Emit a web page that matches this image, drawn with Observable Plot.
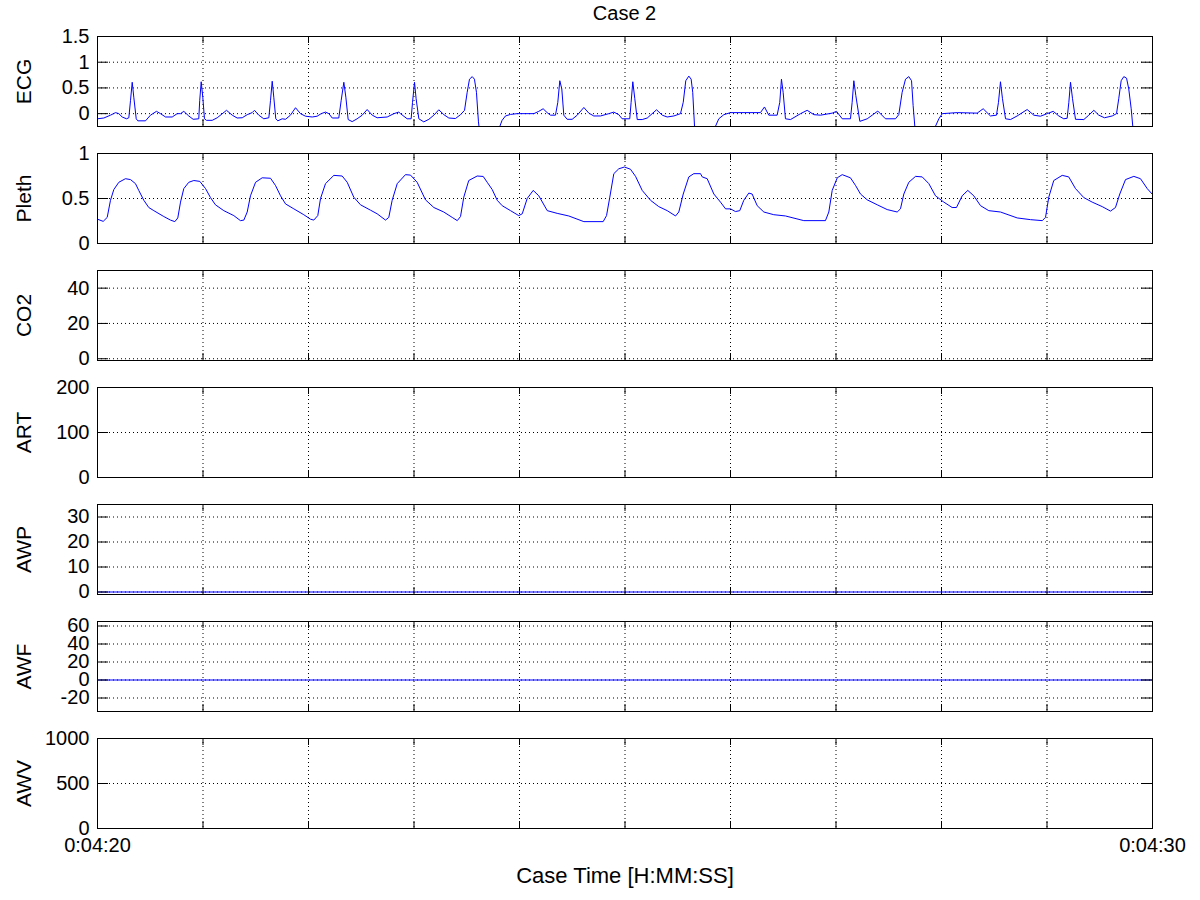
<!DOCTYPE html>
<html><head><meta charset="utf-8">
<script src="https://cdn.jsdelivr.net/npm/d3@7"></script>
<script src="https://cdn.jsdelivr.net/npm/@observablehq/plot@0.6"></script>
<style>
body{margin:0;background:#fff;}
#chart{position:relative;width:1200px;height:900px;font-family:"Liberation Sans",Arial,sans-serif;background:#fff;overflow:hidden;}
#title{position:absolute;left:97px;width:1055px;top:3px;text-align:center;font-size:20px;line-height:20px;color:#000;}
</style></head><body>
<div id="chart"><div id="title">Case 2</div></div>
<script>
// ---- data ----
const titleText = "Case 2";
const xLabel = "Case Time [H:MM:SS]";
const startSec = 260; // 0:04:20
const endSec = 270;   // 0:04:30
const panelNames = ["ECG", "Pleth", "CO2", "ART", "AWP", "AWF", "AWV"];
const yDomains = [[-0.25, 1.5], [0, 1], [-1, 50], [0, 200], [-1, 35], [-35, 65], [0, 1000]];
const yTicks = [[0, 0.5, 1, 1.5], [0, 0.5, 1], [0, 20, 40], [0, 100, 200], [0, 10, 20, 30], [-20, 0, 20, 40, 60], [0, 500, 1000]];
const xTickLabels = [260, 270];

// ECG (seconds after 0:04:20, mV)
const ecgT = [0.000,0.060,0.123,0.171,0.202,0.234,0.275,0.297,0.313,0.329,0.344,0.367,0.382,0.455,0.502,0.559,0.597,0.645,0.708,0.755,0.787,0.818,0.865,0.907,0.960,0.969,0.983,0.998,1.014,1.033,1.087,1.135,1.223,1.277,1.324,1.372,1.419,1.466,1.488,1.529,1.576,1.624,1.640,1.656,1.671,1.690,1.709,1.751,1.782,1.829,1.877,1.924,1.972,2.035,2.082,2.120,2.161,2.193,2.225,2.287,2.310,2.335,2.354,2.376,2.414,2.461,2.509,2.556,2.604,2.651,2.746,2.809,2.856,2.872,2.935,2.973,2.986,3.005,3.020,3.046,3.093,3.141,3.188,3.235,3.283,3.330,3.393,3.441,3.479,3.504,3.526,3.552,3.573,3.592,3.611,3.630,3.804,3.814,3.835,3.867,3.915,3.978,4.136,4.183,4.224,4.262,4.294,4.341,4.363,4.382,4.401,4.420,4.452,4.499,4.547,4.610,4.657,4.704,4.768,4.847,4.894,4.941,4.973,5.045,5.058,5.074,5.093,5.116,5.163,5.211,5.299,5.353,5.400,5.463,5.526,5.552,5.576,5.605,5.627,5.642,5.659,5.668,5.851,5.858,5.889,5.937,6.000,6.284,6.322,6.363,6.442,6.467,6.483,6.499,6.521,6.569,6.664,6.727,6.790,6.853,6.964,7.005,7.059,7.137,7.153,7.169,7.188,7.226,7.296,7.343,7.396,7.469,7.564,7.595,7.627,7.659,7.690,7.716,7.731,7.747,7.756,7.934,7.943,7.975,8.007,8.149,8.338,8.395,8.464,8.521,8.540,8.559,8.578,8.607,8.654,8.717,8.812,8.875,8.938,9.002,9.059,9.112,9.159,9.191,9.207,9.223,9.242,9.270,9.349,9.396,9.444,9.491,9.545,9.618,9.659,9.680,9.703,9.728,9.754,9.775,9.798,9.813,9.822,10.000];
const ecgV = [-0.10,-0.085,-0.03,0.02,0.00,-0.065,-0.10,-0.08,0.26,0.61,0.32,-0.10,-0.14,-0.14,-0.03,0.045,0.00,-0.065,-0.065,0.00,0.00,0.045,-0.045,-0.11,-0.10,0.26,0.62,0.32,-0.10,-0.13,-0.13,-0.08,0.065,-0.03,-0.085,-0.08,-0.02,0.02,0.065,-0.03,-0.10,-0.08,0.26,0.63,0.32,-0.10,-0.14,-0.10,-0.11,-0.03,0.115,0.00,-0.05,-0.065,-0.05,0.00,0.03,0.00,-0.085,-0.085,0.26,0.61,0.32,-0.115,-0.155,-0.10,-0.03,0.08,-0.03,-0.08,-0.065,0.00,0.03,0.00,-0.10,-0.10,0.22,0.61,0.29,-0.10,-0.16,-0.11,-0.03,0.075,-0.02,-0.085,-0.095,-0.02,0.065,0.415,0.67,0.72,0.67,0.415,-0.16,-0.5,-0.5,-0.245,-0.13,-0.045,-0.015,0.00,0.00,0.045,0.095,0.02,-0.03,-0.03,0.22,0.64,0.48,-0.03,-0.11,-0.11,-0.03,0.12,0.01,-0.045,-0.045,0.00,0.03,-0.02,-0.10,-0.10,0.22,0.62,0.29,-0.115,-0.115,-0.085,0.075,-0.03,-0.065,-0.045,0.00,0.22,0.64,0.73,0.67,0.415,-0.245,-0.5,-0.5,-0.245,-0.10,-0.02,0.02,0.02,0.13,-0.03,-0.03,0.22,0.67,0.415,-0.10,-0.115,0.00,0.065,-0.02,-0.03,0.01,0.045,-0.10,-0.10,0.22,0.64,0.35,-0.15,-0.10,-0.03,0.05,-0.10,-0.10,-0.02,0.415,0.67,0.72,0.64,0.16,-0.245,-0.5,-0.5,-0.245,-0.10,0.00,0.02,0.01,0.095,-0.045,-0.03,0.22,0.62,0.29,-0.10,-0.115,-0.045,0.08,-0.03,-0.05,0.00,0.045,-0.045,-0.10,-0.09,0.22,0.61,0.29,-0.11,-0.115,-0.03,0.065,-0.03,-0.08,-0.045,0.00,0.29,0.64,0.72,0.69,0.48,0.095,-0.245,-0.5,-0.5];

// Pleth (seconds after 0:04:20, normalized)
const plethT = [0.000,0.054,0.092,0.123,0.155,0.202,0.265,0.313,0.360,0.391,0.439,0.486,0.534,0.628,0.692,0.733,0.761,0.787,0.818,0.865,0.913,0.970,1.024,1.071,1.118,1.197,1.292,1.355,1.387,1.419,1.450,1.498,1.561,1.640,1.687,1.735,1.782,1.861,1.955,2.019,2.050,2.088,2.114,2.161,2.240,2.319,2.367,2.429,2.493,2.588,2.651,2.730,2.761,2.793,2.841,2.919,2.967,3.030,3.109,3.188,3.282,3.362,3.410,3.441,3.472,3.519,3.599,3.656,3.694,3.741,3.789,3.836,3.915,3.993,4.026,4.073,4.130,4.183,4.263,4.357,4.467,4.610,4.793,4.825,4.856,4.894,4.941,4.995,5.052,5.100,5.163,5.242,5.320,5.400,5.479,5.510,5.552,5.605,5.652,5.716,5.732,5.779,5.842,5.905,5.953,6.000,6.047,6.088,6.126,6.173,6.205,6.253,6.316,6.410,6.521,6.695,6.900,6.932,6.964,7.012,7.059,7.137,7.185,7.232,7.296,7.391,7.485,7.580,7.611,7.643,7.690,7.754,7.817,7.880,7.943,8.022,8.101,8.142,8.196,8.249,8.306,8.370,8.448,8.559,8.718,8.844,8.955,8.986,9.017,9.064,9.144,9.206,9.270,9.349,9.428,9.523,9.602,9.649,9.690,9.744,9.823,9.886,9.950,10.000];
const plethV = [0.27,0.246,0.29,0.48,0.60,0.68,0.72,0.71,0.665,0.59,0.48,0.40,0.365,0.30,0.26,0.243,0.284,0.46,0.61,0.68,0.70,0.69,0.61,0.51,0.43,0.365,0.31,0.254,0.26,0.35,0.53,0.68,0.73,0.725,0.645,0.53,0.44,0.385,0.32,0.27,0.26,0.31,0.50,0.665,0.757,0.75,0.68,0.515,0.43,0.37,0.33,0.26,0.29,0.48,0.665,0.765,0.76,0.68,0.485,0.40,0.35,0.29,0.254,0.30,0.515,0.70,0.75,0.745,0.68,0.60,0.48,0.42,0.365,0.31,0.33,0.50,0.59,0.53,0.365,0.335,0.306,0.243,0.243,0.31,0.515,0.776,0.83,0.85,0.825,0.746,0.59,0.48,0.41,0.365,0.306,0.35,0.55,0.74,0.776,0.776,0.74,0.72,0.55,0.46,0.385,0.385,0.355,0.365,0.48,0.56,0.55,0.42,0.35,0.32,0.306,0.254,0.254,0.35,0.59,0.73,0.765,0.73,0.645,0.55,0.485,0.43,0.377,0.35,0.385,0.55,0.68,0.746,0.74,0.665,0.53,0.46,0.40,0.40,0.53,0.59,0.53,0.42,0.365,0.35,0.284,0.265,0.254,0.29,0.515,0.70,0.757,0.74,0.61,0.51,0.46,0.41,0.36,0.40,0.55,0.71,0.746,0.72,0.61,0.545];

// Flat channels
const co2T = [], co2V = [];
const artT = [], artV = [];
const awpT = [0, 10], awpV = [0, 0];
const awfT = [0, 10], awfV = [0, 0];
const awvT = [], awvV = [];

const seriesT = [ecgT, plethT, co2T, artT, awpT, awfT, awvT];
const seriesV = [ecgV, plethV, co2V, artV, awpV, awfV, awvV];

// ---- drawing ----
document.getElementById("title").textContent = titleText;
const pad2 = n => String(n).padStart(2, "0");
const fmtTime = d => { const s = Math.round(d); return `${Math.floor(s / 3600)}:${pad2(Math.floor((s % 3600) / 60))}:${pad2(s % 60)}`; };
const secondTicks = d3.range(startSec, endSec + 1);
const chart = document.getElementById("chart");

const W = 1200, ML = 97, MR = 48, PH = 90, GAP = 117, TOP0 = 36;
const FW = W - ML - MR;

panelNames.forEach((name, i) => {
  const isLast = i === panelNames.length - 1;
  const mt = 10, mb = isLast ? 72 : 10;
  const data = seriesT[i].map((t, k) => ({t: startSec + t, v: seriesV[i][k]}));
  const marks = [
    Plot.ruleY(yTicks[i], {y: d => d, stroke: "black", strokeDasharray: "1,3"}),
    Plot.ruleX(secondTicks, {x: d => d, stroke: "black", strokeDasharray: "1,3"}),
    Plot.line(data, {x: "t", y: "v", stroke: "#0000ff", strokeWidth: 1, clip: true}),
    Plot.tickY(yTicks[i], {y: d => d, stroke: "black", insetRight: FW - 11}),
    Plot.tickY(yTicks[i], {y: d => d, stroke: "black", insetLeft: FW - 11}),
    Plot.tickX(secondTicks, {x: d => d, stroke: "black", insetBottom: PH - 7}),
    Plot.tickX(secondTicks, {x: d => d, stroke: "black", insetTop: PH - 7}),
    Plot.frame({stroke: "black"}),
    Plot.axisY({ticks: yTicks[i], tickSize: 0, tickPadding: 8, fontSize: 20, tickFormat: d => String(d), label: null}),
    Plot.text([name], {text: d => d, frameAnchor: "left", textAnchor: "middle", lineAnchor: "middle", dx: -73, rotate: -90, fontSize: 21, fill: "black"})
  ];
  if (isLast) {
    marks.push(Plot.axisX({ticks: xTickLabels, tickSize: 0, tickPadding: 9, fontSize: 20, tickFormat: fmtTime, label: null}));
    marks.push(Plot.text([xLabel], {text: d => d, frameAnchor: "bottom", textAnchor: "middle", lineAnchor: "top", dy: 39, fontSize: 22, fill: "black"}));
  }
  const svg = Plot.plot({
    width: W,
    height: PH + mt + mb,
    marginLeft: ML, marginRight: MR, marginTop: mt, marginBottom: mb,
    x: isLast ? {domain: [startSec, endSec]} : {domain: [startSec, endSec], axis: null},
    y: {domain: yDomains[i]},
    style: {fontFamily: "'Liberation Sans', Arial, sans-serif", fontSize: "20px", color: "black", background: "transparent", overflow: "visible"},
    marks
  });
  svg.style.position = "absolute";
  svg.style.left = "0px";
  svg.style.top = (TOP0 + GAP * i - mt) + "px";
  chart.appendChild(svg);
});
</script>
</body></html>
